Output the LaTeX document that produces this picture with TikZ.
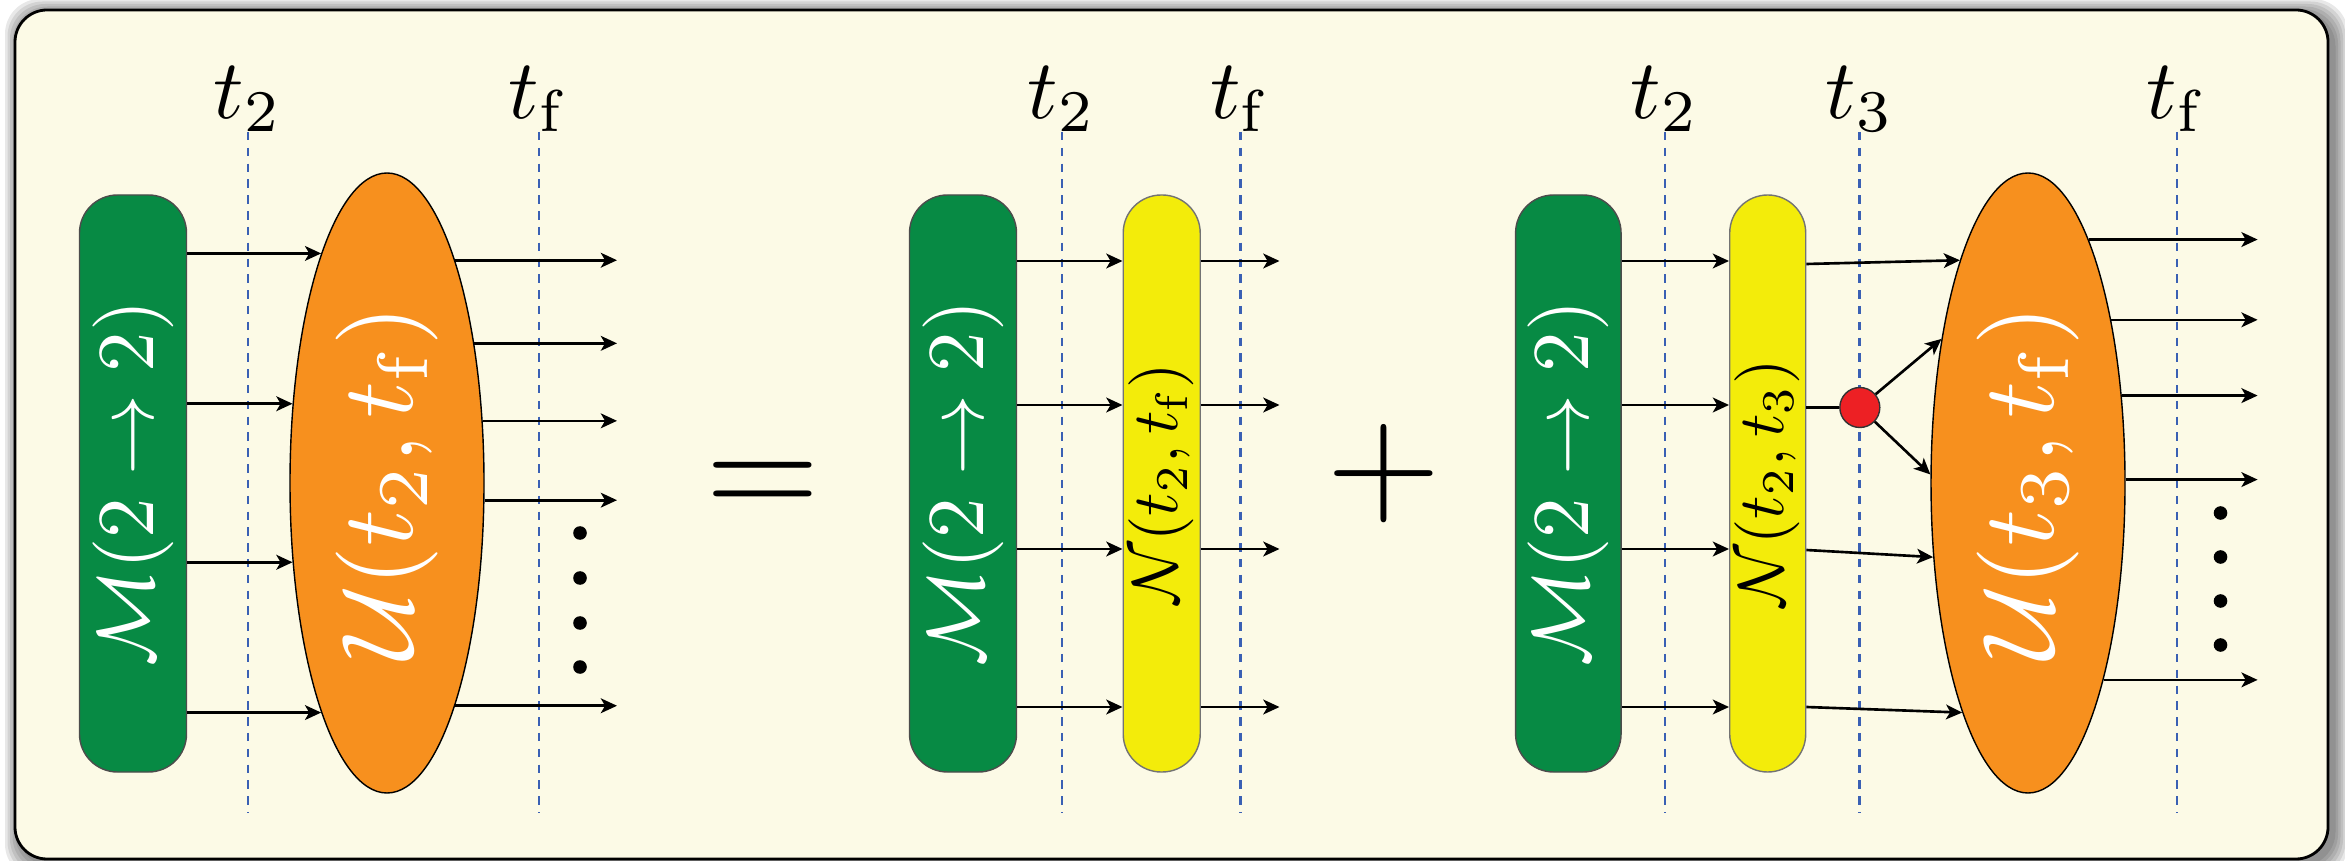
\documentclass[tikz,border=0pt]{standalone}
\usepackage{graphicx}
\usetikzlibrary{arrows.meta, positioning, shapes.geometric}

\definecolor{bgcream}{RGB}{252,250,230}
\definecolor{mgreen}{RGB}{7,138,68}
\definecolor{uorange}{RGB}{247,144,30}
\definecolor{nyellow}{RGB}{243,236,10}
\definecolor{vred}{RGB}{237,32,36}
\definecolor{tblue}{RGB}{58,96,180}

\begin{document}
\begin{tikzpicture}[
  mbox/.style={rectangle, rounded corners=0.38cm, draw=black!70, line width=0.4pt, fill=mgreen,
               text=white, minimum width=1.07cm, minimum height=5.77cm, inner sep=0pt},
  nbox/.style={rectangle, rounded corners=0.38cm, draw=black!55, line width=0.4pt, fill=nyellow,
               minimum width=0.77cm, minimum height=5.77cm, inner sep=0pt},
  ublob/.style={ellipse, draw=black, line width=0.4pt, fill=uorange, text=white,
                minimum width=1.94cm, minimum height=6.2cm, inner sep=0pt},
  vertex/.style={circle, draw=black!80, line width=0.4pt, fill=vred, minimum size=0.4cm, inner sep=0pt},
  tline/.style={tblue, line width=0.8pt, dash pattern=on 2.4pt off 2.1pt},
  tlabel/.style={anchor=south, inner sep=0pt},
  arr/.style={-{Stealth[length=4.6pt, width=4.2pt, inset=1.2pt]}, line width=0.75pt},
  op/.style={inner sep=0pt}
]
  \useasboundingbox (0,0) rectangle (23.45,-8.61);

  % frame with soft shadow
  \foreach \k in {1,...,6}
    \fill[black, opacity=0.09, rounded corners=0.35cm]
      ({0.20-0.025*\k},{-0.14+0.025*\k}) rectangle ({23.33+0.025*\k},{-8.64-0.025*\k});
  \draw[line width=0.8pt, fill=bgcream, rounded corners=0.32cm] (0.15,-0.10) rectangle (23.28,-8.59);

  % time slices
  \foreach \name/\x/\lab in {a/2.48/t_2, b/5.39/t_{\mathrm{f}}, c/10.62/t_2, d/12.406/t_{\mathrm{f}},
                             e/16.65/t_2, f/18.598/t_3, g/21.77/t_{\mathrm{f}}} {
    \draw[tline] (\x,-1.32) -- (\x,-8.13);
    \node[tlabel] (lab-\name) at (\x,-1.32) {\scalebox{2.4}{$\lab$}};
  }

  % first term
  \node[mbox] (M1) at (1.33,-4.835) {\rotatebox{90}{\scalebox{2.3}{$\mathcal{M}(2\to 2)$}}};
  \node[ublob] (U1) at (3.87,-4.83) {\rotatebox{90}{\scalebox{2.9}{$\mathcal{U}(t_2,t_{\mathrm{f}})$}}};
  \coordinate (E1) at (6.17,0);
  \foreach \dy in {2.22,0.78,-0.77,-2.23} {
    \pgfmathsetmacro\ang{atan2(\dy,-0.97*sqrt(1-(\dy/3.1)^2))}
    \draw[arr] (M1.east |- U1.\ang) -- (U1.\ang);
  }
  \foreach \dy in {2.22,1.43,0.63,-0.18,-2.24} {
    \pgfmathsetmacro\ang{atan2(\dy,0.97*sqrt(1-(\dy/3.1)^2))}
    \draw[arr] (U1.\ang) -- (U1.\ang -| E1);
  }
  \foreach \y in {5.33,5.78,6.23,6.67}
    \fill (5.80,-\y) circle (0.068);

  \node[op] (eq) at (7.63,-4.89) {\scalebox{4.2}{$=$}};

  % second term
  \node[mbox] (M2) at (9.63,-4.835) {\rotatebox{90}{\scalebox{2.3}{$\mathcal{M}(2\to 2)$}}};
  \node[nbox] (N2) at (11.617,-4.835) {\rotatebox{90}{\scalebox{1.85}{$\mathcal{N}(t_2,t_{\mathrm{f}})$}}};
  \coordinate (E2) at (12.795,0);
  \foreach \y in {2.61,4.05,5.49,7.07} {
    \draw[arr] (M2.east |- 0,-\y) -- (N2.west |- 0,-\y);
    \draw[arr] (N2.east |- 0,-\y) -- (E2 |- 0,-\y);
  }

  \node[op] (plus) at (13.84,-4.736) {\scalebox{4.2}{$+$}};

  % third term
  \node[mbox, minimum width=1.055cm] (M3) at (15.683,-4.835) {\rotatebox{90}{\scalebox{2.3}{$\mathcal{M}(2\to 2)$}}};
  \node[nbox, minimum width=0.76cm] (N3) at (17.677,-4.835) {\rotatebox{90}{\scalebox{1.85}{$\mathcal{N}(t_2,t_3)$}}};
  \node[ublob] (U3) at (20.28,-4.83) {\rotatebox{90}{\scalebox{2.9}{$\mathcal{U}(t_3,t_{\mathrm{f}})$}}};
  \node[vertex] (R) at (18.598,-4.075) {};
  \coordinate (E3) at (22.576,0);
  \foreach \y in {2.61,4.05,5.49,7.07}
    \draw[arr] (M3.east |- 0,-\y) -- (N3.west |- 0,-\y);
  \foreach \y/\dy in {2.64/2.19,5.50/-0.72,7.07/-2.24} {
    \pgfmathsetmacro\ang{atan2(\dy,-0.97*sqrt(1-(\dy/3.1)^2))}
    \draw[arr] (N3.east |- 0,-\y) -- (U3.\ang);
  }
  \draw[line width=0.75pt] (N3.east |- R) -- (R);
  \foreach \dy in {1.414,0.08} {
    \pgfmathsetmacro\ang{atan2(\dy,-0.97*sqrt(1-(\dy/3.1)^2))}
    \draw[arr] (R) -- (U3.\ang);
  }
  \foreach \dy in {2.46,1.67,0.88,0.04,-2.01} {
    \pgfmathsetmacro\ang{atan2(\dy,0.97*sqrt(1-(\dy/3.1)^2))}
    \draw[arr] (U3.\ang) -- (U3.\ang -| E3);
  }
  \foreach \y in {5.13,5.57,6.01,6.45}
    \fill (22.205,-\y) circle (0.068);
\end{tikzpicture}
\end{document}
